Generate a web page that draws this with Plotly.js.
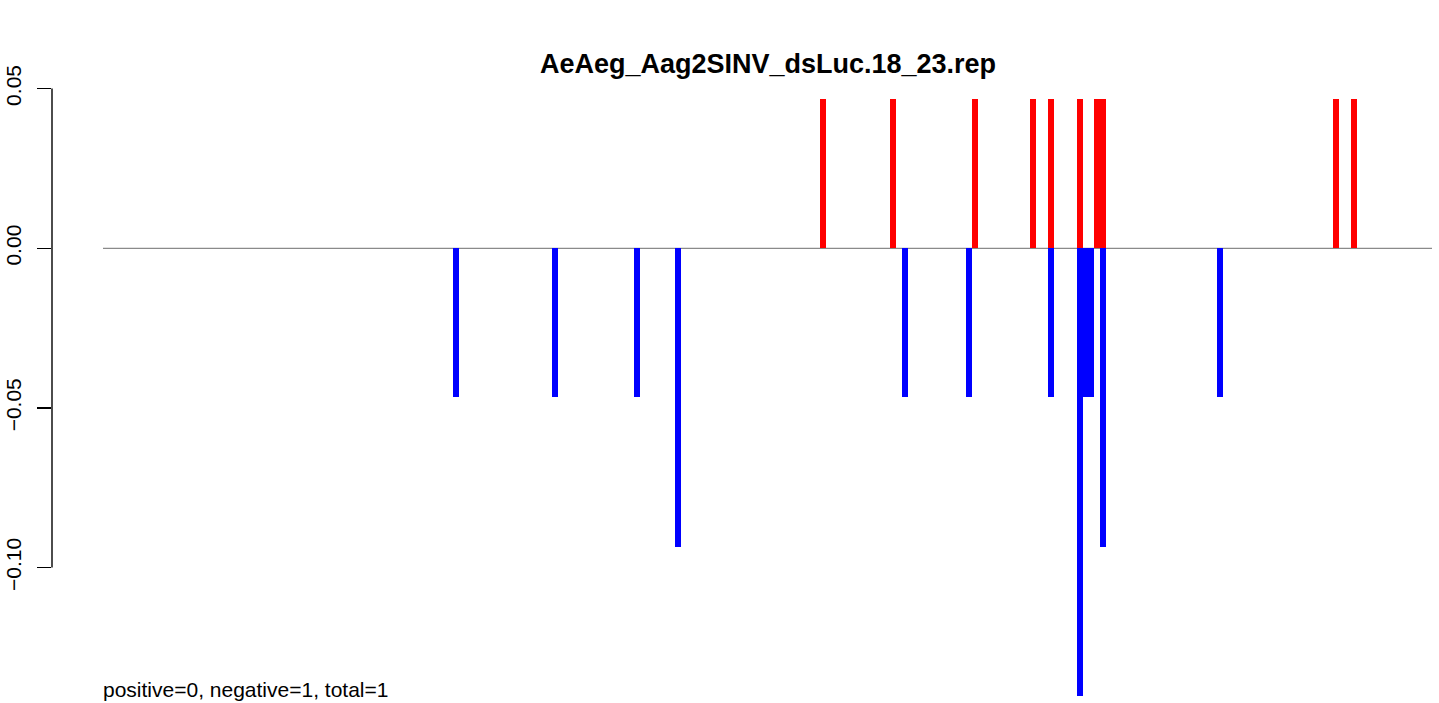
<!DOCTYPE html>
<html>
<head>
<meta charset="utf-8">
<script src="https://cdn.plot.ly/plotly-3.0.1.min.js"></script>
<style>html,body{margin:0;padding:0;background:#fff;}#chart{width:1439px;height:703px;}</style>
</head>
<body>
<div id="chart"></div>
<script>
// Positions along the sequence (arbitrary units) and values
const posPositions = [720, 790, 872, 930, 948, 977, 994, 1000, 1233, 1251];
const posValues    = [0.0467, 0.0467, 0.0467, 0.0467, 0.0467, 0.0467, 0.0467, 0.0467, 0.0467, 0.0467];
const negPositions = [353, 452, 534, 575, 802, 866, 948, 977, 983, 988, 1000, 1117];
const negValues    = [-0.0467, -0.0467, -0.0467, -0.0934, -0.0467, -0.0467, -0.0467, -0.1401, -0.0467, -0.0467, -0.0934, -0.0467];
const seqStart = 0;
const seqEnd = 1329;
const yTickVals = [-0.10, -0.05, 0.00, 0.05];
const titleText = "AeAeg_Aag2SINV_dsLuc.18_23.rep";
const noteText = "positive=0, negative=1, total=1";

const font = "Liberation Sans, Arial, Helvetica, sans-serif";

const traces = [
  {type: "bar", x: posPositions, y: posValues, width: 6,
   marker: {color: "#FF0000", line: {width: 0}}, hoverinfo: "x+y", showlegend: false},
  {type: "bar", x: negPositions, y: negValues, width: 6,
   marker: {color: "#0000FF", line: {width: 0}}, hoverinfo: "x+y", showlegend: false}
];

const layout = {
  width: 1439, height: 703,
  margin: {l: 52, r: 0, t: 57, b: 0, pad: 0},
  paper_bgcolor: "#fff", plot_bgcolor: "#fff",
  barmode: "overlay", bargap: 0,
  showlegend: false,
  font: {family: font, color: "#000", size: 21},
  title: {text: "<b>" + titleText + "</b>", font: {family: font, size: 27, color: "#000"},
          xref: "container", x: 768/1439, xanchor: "center",
          yref: "container", y: 1 - 64/703, yanchor: "middle"},
  xaxis: {range: [-51, 1336], visible: false, showgrid: false, zeroline: false, fixedrange: true},
  yaxis: {range: [-0.1424, 0.0599], showgrid: false, zeroline: false, showline: false,
          tickmode: "array", tickvals: yTickVals, tickformat: ".2f",
          ticks: "outside", ticklen: 14, tickwidth: 1.4, tickcolor: "#000",
          tickangle: -90, ticklabelstandoff: 8,
          tickfont: {family: font, size: 21, color: "#000"}, fixedrange: true},
  shapes: [
    {type: "line", xref: "x", yref: "y", x0: seqStart, x1: seqEnd, y0: 0, y1: 0,
     line: {color: "#8a8a8a", width: 1.2}, layer: "below"},
    {type: "line", xref: "paper", yref: "y", x0: 0, x1: 0, y0: yTickVals[0], y1: yTickVals[yTickVals.length-1],
     line: {color: "#000", width: 1.4}}
  ],
  annotations: [
    {text: noteText, xref: "x", yref: "y", x: seqStart, y: -0.1383, xanchor: "left", yanchor: "middle",
     xshift: -2, showarrow: false, font: {family: font, size: 21, color: "#000"}}
  ]
};

Plotly.newPlot("chart", traces, layout, {displayModeBar: false, staticPlot: true});
</script>
</body>
</html>
